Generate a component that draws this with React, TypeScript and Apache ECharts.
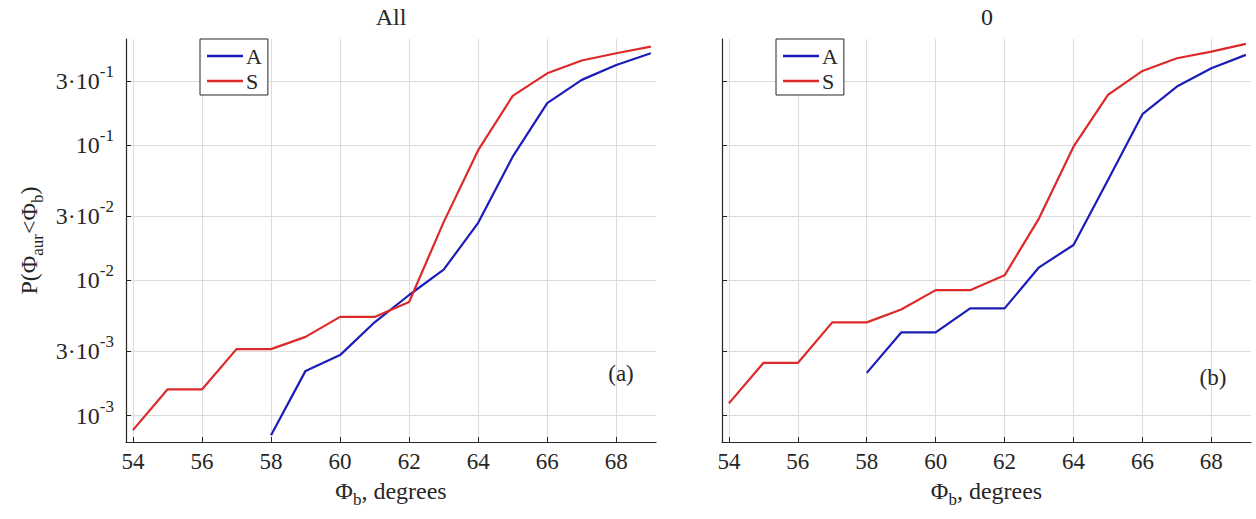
import React, { useEffect, useRef } from 'react';
import * as echarts from 'echarts';

const xValues = [54, 55, 56, 57, 58, 59, 60, 61, 62, 63, 64, 65, 66, 67, 68, 69];
const allA = [null, null, null, null, 7.15e-4, 2.14e-3, 2.8e-3, 4.9e-3, 7.8e-3, 0.012, 0.0267, 0.0824, 0.205, 0.305, 0.393, 0.48];
const allS = [7.8e-4, 1.56e-3, 1.56e-3, 3.1e-3, 3.1e-3, 3.82e-3, 5.37e-3, 5.37e-3, 6.93e-3, 0.027, 0.092, 0.232, 0.341, 0.424, 0.48, 0.537];
const zeroA = [null, null, null, null, 2.07e-3, 4.12e-3, 4.12e-3, 6.21e-3, 6.21e-3, 0.0125, 0.0183, 0.0553, 0.17, 0.272, 0.372, 0.467];
const zeroS = [1.23e-3, 2.45e-3, 2.45e-3, 4.89e-3, 4.89e-3, 6.1e-3, 8.47e-3, 8.47e-3, 0.0109, 0.0288, 0.0977, 0.236, 0.355, 0.441, 0.494, 0.563];

const xTicks = [54, 56, 58, 60, 62, 64, 66, 68];
const yTickValues = [0.001, 0.003, 0.01, 0.03, 0.1, 0.3];
const yTickMant = ['', '3·', '', '3·', '', '3·'];
const yTickExp = ['-3', '-3', '-2', '-2', '-1', '-1'];

const panelTitles = ['All', '0'];
const panelTags = ['(a)', '(b)'];
const seriesNames = ['A', 'S'];

const FONT = 'Liberation Serif';
const TXT = '#262626';
const BLUE = '#1c1cb8';
const RED = '#dc2a2a';

function pairs(vals: (number | null)[]) {
  const out: [number, number][] = [];
  vals.forEach((v, i) => {
    if (v != null) out.push([xValues[i], v]);
  });
  return out;
}

const grids = [
  { left: 126, width: 530, top: 39, height: 403 },
  { left: 722, width: 529, top: 39, height: 403 },
];

export default function App() {
  const ref = useRef<HTMLDivElement>(null);
  useEffect(() => {
    if (!ref.current) return;
    const chart = echarts.init(ref.current, undefined, { renderer: 'svg' });
    const yLabelFormatter = (v: number) => {
      let idx = -1;
      yTickValues.forEach((t, i) => {
        if (Math.abs(t - v) / t < 1e-6) idx = i;
      });
      if (idx < 0) return '';
      return `{b|${yTickMant[idx]}10}{s|${yTickExp[idx]}}`;
    };
    const xAxes = grids.map((_, gi) => ({
      type: 'value',
      gridIndex: gi,
      min: 53.8,
      max: 69.15,
      axisLine: { show: true, onZero: false, lineStyle: { color: TXT, width: 1.2 } },
      axisTick: { show: true, inside: true, length: 5, customValues: xTicks, lineStyle: { color: TXT } },
      axisLabel: {
        show: true,
        customValues: xTicks,
        color: TXT,
        fontFamily: FONT,
        fontSize: 23,
        margin: 8,
      },
      splitLine: { show: true, lineStyle: { color: '#dcdcdc', width: 1 } },
      name: '{n|Φ}{sub|b}{n|, degrees}',
      nameLocation: 'middle',
      nameGap: 32,
      nameTextStyle: {
        color: TXT,
        fontFamily: FONT,
        rich: {
          n: { fontSize: 24, lineHeight: 34, fontFamily: FONT, color: TXT },
          sub: { fontSize: 17, lineHeight: 17, verticalAlign: 'bottom', fontFamily: FONT, color: TXT },
        },
      },
    }));
    const yAxes = grids.map((_, gi) => ({
      type: 'log',
      logBase: 10,
      gridIndex: gi,
      min: 6.37e-4,
      max: 0.612,
      axisLine: { show: true, lineStyle: { color: TXT, width: 1.2 } },
      axisTick: { show: true, inside: true, length: 5, customValues: yTickValues, lineStyle: { color: TXT } },
      axisLabel: {
        show: gi === 0,
        customValues: yTickValues,
        formatter: yLabelFormatter,
        margin: 12,
        rich: {
          b: { fontSize: 24, lineHeight: 36, fontFamily: FONT, color: TXT },
          s: { fontSize: 17, lineHeight: 17, verticalAlign: 'top', fontFamily: FONT, color: TXT },
        },
      },
      minorTick: { show: false },
      minorSplitLine: { show: false },
      splitLine: { show: true, lineStyle: { color: '#dcdcdc', width: 1 } },
      name: gi === 0 ? '{n|P(Φ}{sub|aur}{n|<Φ}{sub|b}{n|)}' : '',
      nameLocation: 'middle',
      nameGap: 80,
      nameRotate: 90,
      nameTextStyle: {
        color: TXT,
        fontFamily: FONT,
        rich: {
          n: { fontSize: 24, lineHeight: 34, fontFamily: FONT, color: TXT },
          sub: { fontSize: 17, lineHeight: 17, verticalAlign: 'bottom', fontFamily: FONT, color: TXT },
        },
      },
    }));
    const datasets = [
      [allA, allS],
      [zeroA, zeroS],
    ];
    const series: any[] = [];
    datasets.forEach((pair, gi) => {
      pair.forEach((vals, si) => {
        series.push({
          type: 'line',
          name: seriesNames[si],
          xAxisIndex: gi,
          yAxisIndex: gi,
          data: pairs(vals),
          symbol: 'none',
          showSymbol: false,
          lineStyle: { width: 2.2, color: si === 0 ? BLUE : RED },
          itemStyle: { color: si === 0 ? BLUE : RED },
          z: 3 + si,
        });
      });
    });
    const legendLefts = [200, 776];
    const legends = legendLefts.map((l) => ({
      show: true,
      orient: 'vertical',
      left: l,
      top: 39,
      data: seriesNames,
      icon: 'rect',
      padding: [6, 6, 3, 7],
      itemGap: 3,
      itemWidth: 36,
      itemHeight: 2.5,
      backgroundColor: '#ffffff',
      borderColor: TXT,
      borderWidth: 1,
      borderRadius: 0,
      selectedMode: false,
      textStyle: { fontFamily: FONT, fontSize: 22, color: TXT, padding: [0, 0, 0, -2] },
    }));
    const titleCenters = [391, 987];
    const tagPos = [
      [621, 373],
      [1213, 377],
    ];
    const graphic: any[] = [];
    panelTitles.forEach((t, i) => {
      graphic.push({
        type: 'text',
        x: titleCenters[i],
        y: 17,
        style: { text: t, fontFamily: FONT, fontSize: 24, fill: TXT, align: 'center', verticalAlign: 'middle' },
      });
    });
    panelTags.forEach((t, i) => {
      graphic.push({
        type: 'text',
        x: tagPos[i][0],
        y: tagPos[i][1],
        z: 10,
        style: { text: t, fontFamily: FONT, fontSize: 23, fill: TXT, align: 'center', verticalAlign: 'middle' },
      });
    });
    chart.setOption({
      animation: false,
      backgroundColor: '#ffffff',
      textStyle: { fontFamily: FONT },
      grid: grids.map((g) => ({ ...g, containLabel: false })),
      xAxis: xAxes,
      yAxis: yAxes,
      legend: legends,
      series,
      graphic,
    });
    return () => chart.dispose();
  }, []);
  return (
    <div
      ref={ref}
      style={{ position: 'fixed', left: 0, top: 0, width: 1256, height: 519, background: '#fff' }}
    />
  );
}
